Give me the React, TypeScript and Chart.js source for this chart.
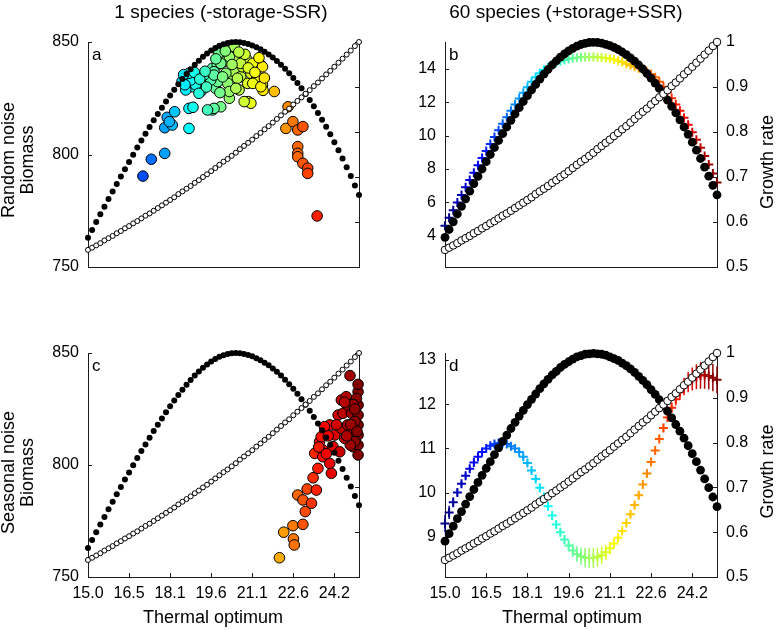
import React, { useEffect, useRef } from 'react';
import { Chart, registerables } from 'chart.js';

Chart.register(...registerables);

const FONT = '"Liberation Sans", Arial, Helvetica, sans-serif';
const AXIS_COLOR = '#1a1a1a';
const TEXT_COLOR = '#000';

// Thermal optima of the species pool (x grid shared by all panels)
const THERMAL_OPTIMUM = [
  15.0, 15.1525, 15.305, 15.4575, 15.61, 15.7625, 15.915, 16.0675, 16.22, 16.3725,
  16.525, 16.6775, 16.83, 16.9825, 17.135, 17.2875, 17.44, 17.5925, 17.745, 17.8975,
  18.05, 18.2025, 18.355, 18.5075, 18.66, 18.8125, 18.965, 19.1175, 19.27, 19.4225,
  19.575, 19.7275, 19.88, 20.0325, 20.185, 20.3375, 20.49, 20.6425, 20.795, 20.9475,
  21.1, 21.2525, 21.405, 21.5575, 21.71, 21.8625, 22.015, 22.1675, 22.32, 22.4725,
  22.625, 22.7775, 22.93, 23.0825, 23.235, 23.3875, 23.54, 23.6925, 23.845, 23.9975,
  24.15, 24.3025, 24.455, 24.6075, 24.76, 24.9125, 25.065,
];

const X_TICK_VALUES = [15.0, 16.525, 18.05, 19.575, 21.1, 22.625, 24.15];
const X_TICK_LABELS = ['15.0', '16.5', '18.1', '19.6', '21.1', '22.6', '24.2'];

const GROWTH_TICKS = [0.5, 0.6, 0.7, 0.8, 0.9, 1];
const GROWTH_TICK_LABELS = ['0.5', '0.6', '0.7', '0.8', '0.9', '1'];
const BIOMASS_TICKS_1SP = [750, 800, 850];
const BIOMASS_TICKS_B = [4, 6, 8, 10, 12, 14];
const BIOMASS_TICKS_D = [9, 10, 11, 12, 13];

// Maximal growth rate for each thermal optimum (open circles, right axis)
const GROWTH_RATE = [
  0.538, 0.543, 0.548, 0.553, 0.559, 0.564, 0.569, 0.575, 0.58, 0.586,
  0.591, 0.597, 0.602, 0.608, 0.614, 0.619, 0.625, 0.631, 0.637, 0.643,
  0.649, 0.655, 0.662, 0.668, 0.674, 0.68, 0.687, 0.693, 0.7, 0.706,
  0.713, 0.72, 0.727, 0.734, 0.74, 0.747, 0.754, 0.762, 0.769, 0.776,
  0.783, 0.791, 0.798, 0.806, 0.813, 0.821, 0.829, 0.837, 0.845, 0.852,
  0.861, 0.869, 0.877, 0.885, 0.893, 0.902, 0.91, 0.919, 0.928, 0.936,
  0.945, 0.954, 0.963, 0.972, 0.981, 0.991, 1.0,
];

// Biomass without noise, single-species model (filled circles, panels a and c)
const BIOMASS_1SP_CONST = [
  763.0, 766.5, 770.0, 773.4, 776.8, 780.2, 783.6, 786.9, 790.2, 793.5,
  796.7, 799.9, 803.1, 806.2, 809.2, 812.2, 815.2, 818.0, 820.8, 823.6,
  826.2, 828.8, 831.2, 833.6, 835.8, 837.9, 839.9, 841.7, 843.4, 844.9,
  846.2, 847.3, 848.3, 849.0, 849.6, 849.9, 850.0, 849.9, 849.6, 849.1,
  848.5, 847.7, 846.8, 845.7, 844.5, 843.1, 841.6, 839.9, 838.1, 836.1,
  834.0, 831.8, 829.4, 826.9, 824.2, 821.4, 818.5, 815.5, 812.3, 809.0,
  805.5, 801.9, 798.2, 794.3, 790.4, 786.2, 782.0,
];

// Biomass without noise, 60-species model (filled circles, panel b)
const BIOMASS_60SP_CONST_B = [
  3.9, 4.37, 4.83, 5.3, 5.76, 6.21, 6.67, 7.12, 7.56, 8.0,
  8.44, 8.87, 9.29, 9.71, 10.12, 10.52, 10.92, 11.3, 11.68, 12.05,
  12.4, 12.74, 13.07, 13.39, 13.69, 13.97, 14.24, 14.48, 14.71, 14.91,
  15.09, 15.24, 15.37, 15.47, 15.54, 15.59, 15.6, 15.59, 15.55, 15.48,
  15.4, 15.3, 15.17, 15.02, 14.86, 14.67, 14.47, 14.24, 14.0, 13.73,
  13.45, 13.15, 12.83, 12.49, 12.13, 11.76, 11.37, 10.95, 10.52, 10.08,
  9.61, 9.13, 8.63, 8.11, 7.57, 7.02, 6.45,
];

// Biomass without noise, 60-species model (filled circles, panel d)
const BIOMASS_60SP_CONST_D = [
  8.9, 9.07, 9.24, 9.41, 9.57, 9.74, 9.91, 10.07, 10.23, 10.39,
  10.55, 10.7, 10.86, 11.01, 11.16, 11.3, 11.45, 11.59, 11.73, 11.86,
  11.99, 12.11, 12.23, 12.35, 12.46, 12.56, 12.66, 12.74, 12.83, 12.9,
  12.96, 13.02, 13.07, 13.1, 13.13, 13.14, 13.15, 13.14, 13.13, 13.11,
  13.07, 13.03, 12.99, 12.93, 12.87, 12.8, 12.72, 12.63, 12.54, 12.44,
  12.33, 12.22, 12.1, 11.97, 11.84, 11.69, 11.54, 11.39, 11.23, 11.06,
  10.88, 10.7, 10.51, 10.31, 10.11, 9.9, 9.68,
];

// Mean biomass per species under random noise (crosses, panel b)
const BIOMASS_60SP_RANDOM = [
  4.6, 5.07, 5.53, 5.99, 6.44, 6.9, 7.34, 7.78, 8.22, 8.66,
  9.08, 9.5, 9.92, 10.32, 10.72, 11.11, 11.49, 11.87, 12.23, 12.57,
  12.91, 13.23, 13.5, 13.74, 13.94, 14.11, 14.25, 14.37, 14.46, 14.54,
  14.6, 14.65, 14.68, 14.7, 14.72, 14.72, 14.72, 14.71, 14.69, 14.66,
  14.62, 14.57, 14.5, 14.42, 14.32, 14.23, 14.14, 14.05, 13.95, 13.84,
  13.7, 13.5, 13.24, 12.93, 12.59, 12.24, 11.87, 11.49, 11.08, 10.65,
  10.21, 9.75, 9.27, 8.78, 8.27, 7.73, 7.19,
];

// Mean biomass per species under seasonal noise (crosses, panel d)
const BIOMASS_60SP_SEASONAL = [
  9.3, 9.55, 9.78, 10.0, 10.2, 10.38, 10.54, 10.68, 10.81, 10.92,
  11.0, 11.06, 11.1, 11.12, 11.12, 11.1, 11.05, 11.0, 10.92, 10.81,
  10.67, 10.5, 10.31, 10.11, 9.9, 9.69, 9.48, 9.28, 9.1, 8.94,
  8.8, 8.69, 8.61, 8.56, 8.53, 8.52, 8.52, 8.54, 8.58, 8.65,
  8.74, 8.85, 8.98, 9.13, 9.31, 9.51, 9.72, 9.94, 10.18, 10.43,
  10.69, 10.95, 11.21, 11.46, 11.7, 11.92, 12.11, 12.27, 12.4, 12.5,
  12.57, 12.62, 12.65, 12.66, 12.64, 12.6, 12.55,
];

// Spread of the seasonal-noise biomass (vertical error bars, panel d)
const SEASONAL_SPREAD = [
  0.2, 0.15, 0.11, 0.08, 0.06, 0.06, 0.06, 0.06, 0.06, 0.06,
  0.06, 0.06, 0.06, 0.06, 0.06, 0.06, 0.06, 0.06, 0.06, 0.06,
  0.06, 0.06, 0.06, 0.06, 0.06, 0.06, 0.07, 0.08, 0.09, 0.1,
  0.12, 0.15, 0.18, 0.2, 0.22, 0.23, 0.23, 0.22, 0.2, 0.17,
  0.14, 0.11, 0.09, 0.08, 0.07, 0.07, 0.07, 0.07, 0.07, 0.07,
  0.07, 0.07, 0.08, 0.09, 0.1, 0.12, 0.14, 0.17, 0.2, 0.23,
  0.26, 0.28, 0.3, 0.31, 0.31, 0.31, 0.31,
];

// Single species, random noise: thermal optimum and biomass over time
const RANDOM_1SP_T = [
  17.04, 17.35, 17.85, 17.94, 18.22, 17.85, 18.13, 18.02, 18.75, 18.9,
  18.75, 18.69, 18.9, 19.06, 18.87, 19.18, 19.3, 19.5, 19.62, 19.74,
  19.82, 19.62, 19.93, 19.93, 19.8, 20.05, 20.25, 20.31, 20.43, 20.43,
  20.55, 20.61, 20.67, 20.73, 20.87, 20.93, 20.95, 21.05, 21.05, 21.18,
  21.24, 21.42, 21.48, 21.5, 21.92, 22.43, 22.35, 22.61, 22.79, 22.98,
  22.79, 22.79, 22.79, 22.98, 23.16, 23.16, 23.51, 20.25, 19.86, 19.93,
  19.56, 19.3, 19.68, 20.12, 20.19, 20.55, 20.67, 20.83, 21.12, 21.48,
  21.3, 21.12, 21.42, 20.25, 20.49, 19.68, 19.44, 19.24, 19.0, 19.06,
  18.81, 18.75, 20.8, 18.49, 18.63, 19.12, 19.68, 18.55, 18.6, 18.95,
  19.15, 19.4, 19.35, 19.9, 20.0, 20.35, 20.6, 20.95, 21.2, 21.35,
  21.55, 20.1, 19.75,
];
const RANDOM_1SP_B = [
  790.4, 797.9, 800.5, 816.5, 819.0, 811.9, 813.1, 814.6, 820.5, 821.0,
  811.6, 833.1, 834.6, 831.6, 830.1, 828.0, 832.4, 833.9, 838.3, 829.4,
  832.4, 819.8, 821.2, 844.2, 839.8, 841.3, 825.0, 833.1, 836.8, 847.9,
  842.7, 828.7, 834.6, 839.0, 842.7, 831.6, 823.5, 822.8, 836.1, 840.5,
  833.1, 839.8, 830.9, 828.5, 828.0, 821.2, 811.6, 814.6, 810.9, 812.4,
  803.5, 800.5, 799.0, 796.1, 793.9, 791.6, 772.7, 843.5, 845.0, 840.5,
  833.1, 835.3, 836.8, 836.1, 831.6, 833.9, 840.5, 844.5, 840.5, 839.0,
  834.6, 831.6, 830.1, 828.0, 829.4, 820.5, 819.8, 828.7, 830.9, 834.6,
  833.1, 836.1, 823.5, 832.4, 828.7, 827.2, 835.3, 835.5, 831.0, 836.5,
  833.5, 830.0, 837.0, 827.5, 834.5, 840.0, 845.5, 838.5, 836.5, 843.0,
  834.0, 846.0, 842.5,
];

// Single species, seasonal noise: thermal optimum and biomass over time
const SEASONAL_1SP_T = [
  22.11, 22.27, 22.61, 22.63, 22.66, 22.98, 22.79, 23.07, 22.98, 23.3,
  23.14, 23.36, 23.48, 23.54, 23.42, 23.6, 23.66, 23.72, 23.72, 23.98,
  24.04, 23.98, 24.17, 24.1, 24.35, 24.29, 24.47, 24.41, 24.41, 24.59,
  24.73, 24.64, 24.64, 24.79, 24.79, 24.84, 25.03, 25.03, 25.03, 25.03,
  25.03, 25.03, 25.03, 24.97, 24.91, 24.91, 24.74, 24.53, 23.78, 23.57,
  23.85, 23.92, 24.23, 24.61, 24.85, 24.91, 24.76, 24.99, 25.03, 24.53,
];
const SEASONAL_1SP_B = [
  758.6, 770.0, 772.9, 767.0, 764.3, 773.5, 786.6, 779.2, 784.4, 782.9,
  789.3, 794.3, 788.8, 798.5, 805.2, 810.4, 812.6, 806.7, 803.7, 800.7,
  796.3, 817.9, 813.4, 808.2, 805.9, 822.3, 823.1, 816.4, 829.0, 830.5,
  839.9, 826.8, 817.9, 823.1, 814.9, 808.2, 832.7, 826.8, 822.3, 817.9,
  813.4, 808.9, 804.5, 829.7, 819.4, 810.4, 808.9, 811.9, 817.1, 808.0,
  805.0, 813.0, 818.0, 813.0, 827.0, 825.0, 818.0, 815.0, 836.0, 828.0,
];

const T_AXIS_MIN = THERMAL_OPTIMUM[0];
const T_AXIS_MAX = THERMAL_OPTIMUM[THERMAL_OPTIMUM.length - 1];

// MATLAB-style jet colour map
function jet(t: number): string {
  const c = (v: number) => Math.round(255 * Math.max(0, Math.min(1, v)));
  const r = c(Math.min(4 * t - 1.5, -4 * t + 4.5));
  const g = c(Math.min(4 * t - 0.5, -4 * t + 3.5));
  const b = c(Math.min(4 * t + 0.5, -4 * t + 2.5));
  return `rgb(${r},${g},${b})`;
}
const colourFor = (temp: number) => jet((temp - T_AXIS_MIN) / (T_AXIS_MAX - T_AXIS_MIN));

const decorPlugin = {
  id: 'decor',
  beforeDatasetsDraw(chart: any, _args: any, opts: any) {
    const { ctx, chartArea: ca } = chart;
    const len = 4;
    ctx.save();
    ctx.strokeStyle = AXIS_COLOR;
    ctx.lineWidth = 1;
    ctx.beginPath();
    const yS = chart.scales.y;
    const y2S = chart.scales.y2;
    const xS = chart.scales.x;
    yS.ticks.forEach((t: any) => {
      const p = Math.round(yS.getPixelForValue(t.value)) + 0.5;
      ctx.moveTo(ca.left, p);
      ctx.lineTo(ca.left + len, p);
    });
    y2S.ticks.forEach((t: any) => {
      const p = Math.round(y2S.getPixelForValue(t.value)) + 0.5;
      ctx.moveTo(ca.right - len, p);
      ctx.lineTo(ca.right, p);
    });
    if (opts.xTicks) {
      xS.ticks.forEach((t: any) => {
        const p = Math.round(xS.getPixelForValue(t.value)) + 0.5;
        ctx.moveTo(p, ca.bottom);
        ctx.lineTo(p, ca.bottom - len);
      });
    }
    ctx.stroke();
    ctx.restore();
  },
  afterDatasetDraw(chart: any, args: any) {
    const ds = chart.data.datasets[args.index];
    if (!ds.spread) return;
    const { ctx } = chart;
    const yS = chart.scales[ds.yAxisID || 'y'];
    ctx.save();
    ctx.lineWidth = 1.5;
    ds.data.forEach((p: any, i: number) => {
      const el = args.meta.data[i];
      const e = ds.spread[i];
      ctx.strokeStyle = ds.pointBorderColor[i];
      ctx.beginPath();
      ctx.moveTo(el.x, yS.getPixelForValue(p.y - e));
      ctx.lineTo(el.x, yS.getPixelForValue(p.y + e));
      ctx.stroke();
    });
    ctx.restore();
  },
  afterDraw(chart: any, _args: any, opts: any) {
    const { ctx, chartArea: ca } = chart;
    ctx.save();
    ctx.fillStyle = TEXT_COLOR;
    (opts.texts || []).forEach((t: any) => {
      ctx.save();
      ctx.font = `${t.size}px ${FONT}`;
      ctx.textAlign = 'center';
      ctx.textBaseline = 'middle';
      ctx.translate(t.x, t.y);
      if (t.rotate) ctx.rotate(-Math.PI / 2);
      ctx.fillText(t.text, 0, 0);
      ctx.restore();
    });
    if (opts.letter) {
      ctx.font = `17px ${FONT}`;
      ctx.textAlign = 'left';
      ctx.textBaseline = 'alphabetic';
      ctx.fillText(opts.letter, ca.left + 4, ca.top + 18);
    }
    ctx.restore();
  },
};

type PanelSpec = {
  left: number;
  top: number;
  padTop: number;
  yWidth: number;
  y2Width: number;
  xHeight: number;
  yMin: number;
  yMax: number;
  yTicks: number[];
  showGrowthLabels: boolean;
  showX: boolean;
  bigMarkers: boolean;
  constant: number[];
  crosses?: number[];
  spread?: number[];
  scatterT?: number[];
  scatterB?: number[];
  letter: string;
  texts: { text: string; x: number; y: number; size: number; rotate?: boolean }[];
};

const tickFont = { family: FONT, size: 16 };

function buildConfig(p: PanelSpec): any {
  const growthPts = THERMAL_OPTIMUM.map((t, i) => ({ x: t, y: GROWTH_RATE[i] }));
  const constPts = THERMAL_OPTIMUM.map((t, i) => ({ x: t, y: p.constant[i] }));
  const datasets: any[] = [
    {
      label: 'Growth rate',
      data: growthPts,
      yAxisID: 'y2',
      order: 0,
      pointStyle: 'circle',
      pointRadius: p.bigMarkers ? 3.8 : 2.5,
      pointBackgroundColor: '#fff',
      pointBorderColor: '#000',
      pointBorderWidth: 1,
      clip: false,
    },
    {
      label: 'Biomass (no noise)',
      data: constPts,
      yAxisID: 'y',
      order: 1,
      pointStyle: 'circle',
      pointRadius: p.bigMarkers ? 4.4 : 3,
      pointBackgroundColor: '#000',
      pointBorderColor: '#000',
      pointBorderWidth: 0,
      clip: false,
    },
  ];
  if (p.crosses) {
    const cols = THERMAL_OPTIMUM.map(colourFor);
    datasets.push({
      label: 'Biomass',
      data: THERMAL_OPTIMUM.map((t, i) => ({ x: t, y: p.crosses![i] })),
      yAxisID: 'y',
      order: 2,
      pointStyle: 'cross',
      pointRadius: 4.5,
      pointBorderWidth: 2,
      pointBorderColor: cols,
      pointBackgroundColor: cols,
      spread: p.spread,
      clip: false,
    });
  }
  if (p.scatterT && p.scatterB) {
    datasets.push({
      label: 'Biomass',
      data: p.scatterT.map((t, i) => ({ x: t, y: p.scatterB![i] })),
      yAxisID: 'y',
      order: 2,
      pointStyle: 'circle',
      pointRadius: 5.3,
      pointBorderWidth: 1,
      pointBorderColor: '#000',
      pointBackgroundColor: p.scatterT.map(colourFor),
      clip: false,
    });
  }

  return {
    type: 'scatter',
    data: { datasets },
    plugins: [decorPlugin],
    options: {
      animation: false,
      responsive: false,
      maintainAspectRatio: false,
      devicePixelRatio: 1,
      events: [],
      layout: { padding: { top: p.padTop, left: 0, right: 0, bottom: 0 } },
      plugins: {
        legend: { display: false },
        tooltip: { enabled: false },
        decor: { letter: p.letter, texts: p.texts, xTicks: p.showX },
      },
      scales: {
        x: {
          type: 'linear',
          position: 'bottom',
          min: T_AXIS_MIN,
          max: T_AXIS_MAX,
          afterBuildTicks: (s: any) => {
            s.ticks = X_TICK_VALUES.map((v) => ({ value: v }));
          },
          ticks: {
            display: p.showX,
            padding: 7,
            color: TEXT_COLOR,
            font: tickFont,
            autoSkip: false,
            maxRotation: 0,
            callback: (_v: any, i: number) => X_TICK_LABELS[i],
          },
          grid: { display: false, drawTicks: false },
          border: { display: true, color: AXIS_COLOR, width: 1 },
          afterFit: (s: any) => {
            s.height = p.xHeight;
          },
        },
        y: {
          type: 'linear',
          position: 'left',
          min: p.yMin,
          max: p.yMax,
          afterBuildTicks: (s: any) => {
            s.ticks = p.yTicks.map((v) => ({ value: v }));
          },
          ticks: { padding: 9, color: TEXT_COLOR, font: tickFont },
          grid: { display: false, drawTicks: false },
          border: { display: true, color: AXIS_COLOR, width: 1 },
          afterFit: (s: any) => {
            s.width = p.yWidth;
          },
        },
        y2: {
          type: 'linear',
          position: 'right',
          min: 0.5,
          max: 1,
          afterBuildTicks: (s: any) => {
            s.ticks = GROWTH_TICKS.map((v) => ({ value: v }));
          },
          ticks: {
            display: p.showGrowthLabels,
            padding: 9,
            color: TEXT_COLOR,
            font: tickFont,
            callback: (_v: any, i: number) => GROWTH_TICK_LABELS[i],
          },
          grid: { display: false, drawTicks: false },
          border: { display: true, color: AXIS_COLOR, width: 1 },
          afterFit: (s: any) => {
            s.width = p.y2Width;
          },
        },
      },
    },
  };
}

const PANELS: PanelSpec[] = [
  {
    left: 0, top: 0, padTop: 42, yWidth: 88, y2Width: 30, xHeight: 48,
    yMin: 750, yMax: 850, yTicks: BIOMASS_TICKS_1SP,
    showGrowthLabels: false, showX: false, bigMarkers: false,
    constant: BIOMASS_1SP_CONST,
    scatterT: RANDOM_1SP_T, scatterB: RANDOM_1SP_B,
    letter: 'a',
    texts: [
      { text: '1 species (-storage-SSR)', x: 221, y: 13, size: 19 },
      { text: 'Random noise', x: 9, y: 160, size: 18, rotate: true },
      { text: 'Biomass', x: 28, y: 160, size: 18, rotate: true },
    ],
  },
  {
    left: 389, top: 0, padTop: 42, yWidth: 56, y2Width: 61, xHeight: 48,
    yMin: 2.12, yMax: 15.62, yTicks: BIOMASS_TICKS_B,
    showGrowthLabels: true, showX: false, bigMarkers: true,
    constant: BIOMASS_60SP_CONST_B,
    crosses: BIOMASS_60SP_RANDOM,
    letter: 'b',
    texts: [
      { text: '60 species (+storage+SSR)', x: 177, y: 13, size: 19 },
      { text: 'Growth rate', x: 379, y: 162, size: 18, rotate: true },
    ],
  },
  {
    left: 0, top: 315, padTop: 38, yWidth: 88, y2Width: 30, xHeight: 53,
    yMin: 750, yMax: 850, yTicks: BIOMASS_TICKS_1SP,
    showGrowthLabels: false, showX: true, bigMarkers: false,
    constant: BIOMASS_1SP_CONST,
    scatterT: SEASONAL_1SP_T, scatterB: SEASONAL_1SP_B,
    letter: 'c',
    texts: [
      { text: 'Seasonal noise', x: 9, y: 157.5, size: 18, rotate: true },
      { text: 'Biomass', x: 28, y: 157.5, size: 18, rotate: true },
      { text: 'Thermal optimum', x: 213, y: 303, size: 18 },
    ],
  },
  {
    left: 389, top: 315, padTop: 38, yWidth: 56, y2Width: 61, xHeight: 53,
    yMin: 8.09, yMax: 13.158, yTicks: BIOMASS_TICKS_D,
    showGrowthLabels: true, showX: true, bigMarkers: true,
    constant: BIOMASS_60SP_CONST_D,
    crosses: BIOMASS_60SP_SEASONAL, spread: SEASONAL_SPREAD,
    letter: 'd',
    texts: [
      { text: 'Growth rate', x: 379, y: 156.5, size: 18, rotate: true },
      { text: 'Thermal optimum', x: 183, y: 303, size: 18 },
    ],
  },
];

function Panel({ spec }: { spec: PanelSpec }) {
  const ref = useRef<HTMLCanvasElement | null>(null);
  useEffect(() => {
    if (!ref.current) return;
    const chart = new Chart(ref.current, buildConfig(spec));
    return () => chart.destroy();
  }, [spec]);
  return (
    <canvas
      ref={ref}
      width={389}
      height={315}
      style={{ position: 'absolute', left: spec.left, top: spec.top, width: 389, height: 315 }}
    />
  );
}

export default function App() {
  return (
    <div style={{ position: 'fixed', left: 0, top: 0, width: 778, height: 630, background: '#fff', overflow: 'hidden' }}>
      {PANELS.map((s) => (
        <Panel key={s.letter} spec={s} />
      ))}
    </div>
  );
}
